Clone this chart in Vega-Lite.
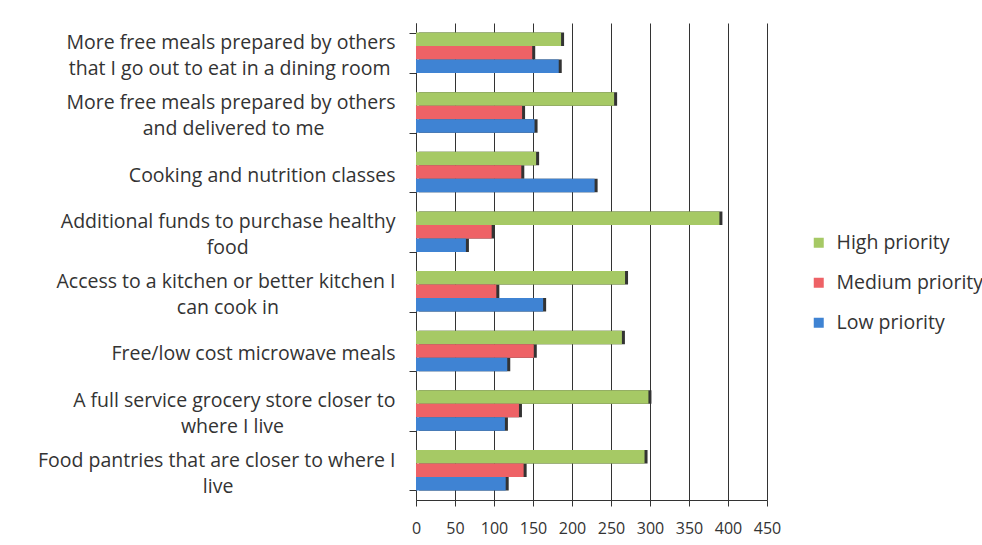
{
  "$schema": "https://vega.github.io/schema/vega-lite/v6.json",
  "width": 351,
  "height": 477,
  "autosize": "none",
  "padding": {"left": 416, "top": 23, "right": 215, "bottom": 45},
  "background": "white",
  "config": {
    "view": {"stroke": null},
    "font": "Open Sans"
  },
  "data": {
    "values": [
      {"cat": "More free meals prepared by others|that I go out to eat in a dining room", "series": "High priority", "value": 186},
      {"cat": "More free meals prepared by others|that I go out to eat in a dining room", "series": "Medium priority", "value": 149},
      {"cat": "More free meals prepared by others|that I go out to eat in a dining room", "series": "Low priority", "value": 183},
      {"cat": "More free meals prepared by others|and delivered to me", "series": "High priority", "value": 254},
      {"cat": "More free meals prepared by others|and delivered to me", "series": "Medium priority", "value": 136},
      {"cat": "More free meals prepared by others|and delivered to me", "series": "Low priority", "value": 152},
      {"cat": "Cooking and nutrition classes", "series": "High priority", "value": 154},
      {"cat": "Cooking and nutrition classes", "series": "Medium priority", "value": 135},
      {"cat": "Cooking and nutrition classes", "series": "Low priority", "value": 229},
      {"cat": "Additional funds to purchase healthy|food", "series": "High priority", "value": 389},
      {"cat": "Additional funds to purchase healthy|food", "series": "Medium priority", "value": 97},
      {"cat": "Additional funds to purchase healthy|food", "series": "Low priority", "value": 64},
      {"cat": "Access to a kitchen or better kitchen I|can cook in", "series": "High priority", "value": 268},
      {"cat": "Access to a kitchen or better kitchen I|can cook in", "series": "Medium priority", "value": 103},
      {"cat": "Access to a kitchen or better kitchen I|can cook in", "series": "Low priority", "value": 163},
      {"cat": "Free/low cost microwave meals", "series": "High priority", "value": 264},
      {"cat": "Free/low cost microwave meals", "series": "Medium priority", "value": 151},
      {"cat": "Free/low cost microwave meals", "series": "Low priority", "value": 117},
      {"cat": "A full service grocery store closer to|where I live", "series": "High priority", "value": 298},
      {"cat": "A full service grocery store closer to|where I live", "series": "Medium priority", "value": 132},
      {"cat": "A full service grocery store closer to|where I live", "series": "Low priority", "value": 114},
      {"cat": "Food pantries that are closer to where I|live", "series": "High priority", "value": 293},
      {"cat": "Food pantries that are closer to where I|live", "series": "Medium priority", "value": 138},
      {"cat": "Food pantries that are closer to where I|live", "series": "Low priority", "value": 115}
    ]
  },
  "encoding": {
    "y": {
      "field": "cat",
      "type": "nominal",
      "sort": null,
      "scale": {"paddingInner": 0.32, "paddingOuter": 0.16},
      "axis": {
        "title": null,
        "labelExpr": "indexof(datum.label, '|') >= 0 ? [split(datum.label, '|')[0], '\u200b', pad(split(datum.label, '|')[1], length(split(datum.label, '|')[1]) + (indexof(datum.label, 'dining') >= 0 ? 1 : indexof(datum.label, 'delivered') >= 0 ? 14 : indexof(datum.label, 'healthy') >= 0 ? 29 : indexof(datum.label, 'kitchen') >= 0 ? 23 : indexof(datum.label, 'grocery') >= 0 ? 22 : 32), '\u00a0') + '\u200b'] : ['\u200b', datum.label]",
        "labelFontSize": 19.5,
        "labelColor": "#333333",
        "labelLineHeight": 13,
        "labelBaseline": "bottom",
        "labelPadding": 14,
        "labelLimit": 0,
        "tickBand": "extent",
        "tickSize": 7,
        "tickColor": "#333333",
        "domainColor": "#333333",
        "grid": false
      }
    },
    "yOffset": {
      "field": "series",
      "type": "nominal",
      "sort": ["High priority", "Medium priority", "Low priority"]
    },
    "x": {
      "field": "value",
      "type": "quantitative",
      "scale": {"domain": [0, 450], "nice": false},
      "axis": {
        "title": null,
        "values": [0, 50, 100, 150, 200, 250, 300, 350, 400, 450],
        "labelOverlap": false,
        "labelFlush": false,
        "labelFontSize": 16,
        "labelColor": "#333333",
        "labelPadding": 14,
        "tickSize": 6,
        "tickColor": "#333333",
        "domainColor": "#333333",
        "grid": true,
        "gridColor": "#333333",
        "gridOpacity": 1,
        "gridWidth": 1
      }
    }
  },
  "layer": [
    {
      "mark": {"type": "bar", "color": "#333333", "xOffset": 3, "yOffset": 2},
      "encoding": {}
    },
    {
      "mark": {"type": "bar"},
      "encoding": {
        "color": {
          "field": "series",
          "type": "nominal",
          "sort": ["High priority", "Medium priority", "Low priority"],
          "scale": {"domain": ["High priority", "Medium priority", "Low priority"], "range": ["#A6C965", "#EE6266", "#3F83D3"]},
          "legend": {
            "title": null,
            "orient": "none",
            "legendX": 393,
            "legendY": 210,
            "symbolType": "square",
            "symbolSize": 100,
            "symbolStrokeWidth": 0,
            "labelFontSize": 19.5,
            "labelColor": "#333333",
            "rowPadding": 19,
            "labelOffset": 8,
            "labelLimit": 0
          }
        }
      }
    }
  ]
}
